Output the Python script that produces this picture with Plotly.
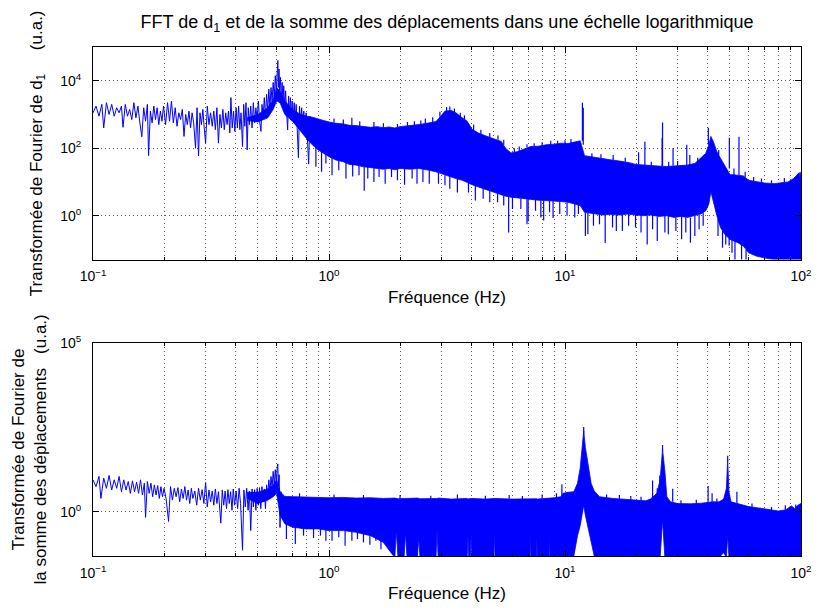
import plotly.graph_objects as go

# ---- values; amplitudes are stored as log10(u.a.) ----

# top panel (FFT of d1): low-frequency part, where single points can be seen
f_top_line = [
    0.100, 0.103, 0.106, 0.109, 0.111, 0.114, 0.117, 0.120, 0.123, 0.126,
    0.129, 0.132, 0.134, 0.137, 0.140, 0.143, 0.146, 0.149, 0.152, 0.155,
    0.158, 0.161, 0.164, 0.167, 0.170, 0.172, 0.175, 0.178, 0.181, 0.184,
    0.187, 0.190, 0.193, 0.196, 0.199, 0.203, 0.207, 0.211, 0.215, 0.219,
    0.223, 0.227, 0.231, 0.235, 0.239, 0.243, 0.247, 0.251, 0.255, 0.259,
    0.263, 0.267, 0.272, 0.276, 0.280, 0.284, 0.288, 0.292, 0.296, 0.300,
    0.305, 0.310, 0.315, 0.320, 0.325, 0.330, 0.335, 0.340, 0.345, 0.350,
    0.355, 0.360, 0.365, 0.370, 0.375, 0.380, 0.384, 0.389, 0.394, 0.399,
    0.404, 0.409, 0.414, 0.419, 0.424, 0.430, 0.435, 0.440, 0.445, 0.450,
    0.455, 0.460, 0.466, 0.472, 0.478, 0.484, 0.490, 0.496, 0.502, 0.508,
    0.515, 0.520, 0.526, 0.532, 0.538, 0.544, 0.550, 0.556, 0.562, 0.568,
    0.574, 0.580, 0.586, 0.592, 0.598, 0.604, 0.607, 0.610, 0.614, 0.618,
    0.623, 0.628, 0.633, 0.638, 0.643, 0.649, 0.655, 0.661, 0.668, 0.674,
    0.680, 0.686, 0.692, 0.698, 0.705, 0.712, 0.719, 0.726, 0.733, 0.742,
    0.750, 0.758, 0.766, 0.774, 0.782, 0.790, 0.800, 0.810, 0.820, 0.830,
    0.840, 0.850,
]
v_top_line = [
    3.05, 3.25, 2.95, 3.30, 2.60, 3.35, 3.00, 3.30, 2.95, 3.20,
    3.05, 3.25, 2.62, 3.30, 2.95, 3.15, 2.85, 3.35, 2.90, 3.25,
    2.75, 2.34, 3.20, 2.80, 3.30, 1.78, 3.10, 2.75, 3.25, 2.85,
    3.20, 2.70, 3.10, 2.80, 3.25, 2.70, 3.35, 2.80, 3.40, 2.75,
    3.20, 2.65, 3.05, 2.85, 3.15, 2.35, 3.00, 2.70, 3.10, 2.60,
    3.05, 2.75, 2.00, 3.20, 1.77, 3.05, 2.70, 3.15, 2.60, 2.15,
    3.25, 2.70, 3.05, 2.65, 3.10, 2.55, 3.20, 2.15, 3.00, 2.60,
    3.15, 2.55, 3.05, 2.70, 3.10, 2.45, 3.50, 2.60, 3.10, 2.50,
    3.20, 2.60, 3.25, 2.55, 3.05, 2.05, 3.30, 2.65, 3.35, 1.95,
    3.20, 2.70, 3.25, 2.60, 3.35, 2.75, 3.20, 2.85, 3.40, 2.80,
    2.50, 3.30, 2.95, 3.50, 2.90, 3.60, 3.10, 3.75, 3.20, 3.80,
    3.40, 3.95, 3.50, 4.15, 3.70, 4.45, 4.60, 3.80, 4.35, 3.70,
    4.10, 3.40, 3.95, 3.30, 3.85, 3.20, 3.70, 3.10, 2.54, 3.55,
    3.00, 3.50, 2.90, 3.40, 2.85, 3.35, 2.80, 3.30, 2.75, 1.72,
    3.25, 2.70, 3.20, 2.60, 3.10, 2.50, 3.05, 2.40, 1.53, 2.95,
    2.20, 2.90,
]

# top panel: dense part, upper and lower edge of the solid blue band
f_top_band = [
    0.45, 0.50, 0.55, 0.58, 0.60, 0.62, 0.65, 0.70, 0.75, 0.80,
    0.85, 0.90, 0.95, 1.00, 1.07, 1.15, 1.22, 1.30, 1.40, 1.50,
    1.60, 1.70, 1.80, 1.90, 2.00, 2.20, 2.40, 2.60, 2.84, 3.00,
    3.10, 3.30, 3.45, 3.67, 3.85, 4.04, 4.30, 4.60, 5.00, 5.37,
    5.60, 5.90, 6.30, 6.70, 7.15, 7.70, 8.30, 9.00, 9.60, 10.3,
    11.0, 11.6, 12.1, 12.8, 13.6, 14.5, 15.5, 17.0, 18.5, 20.0,
    21.5, 23.0, 25.0, 27.0, 29.0, 31.0, 33.0, 35.5, 37.6, 39.5,
    40.7, 41.5, 42.5, 44.0, 45.6, 47.5, 50.0, 54.0, 57.0, 60.0,
    65.0, 70.0, 77.0, 83.0, 88.0, 93.0, 96.0, 98.3, 99.2, 100.0,
]
hi_top_band = [
    2.90, 3.00, 3.20, 3.45, 3.80, 3.70, 3.40, 3.15, 3.02, 2.95,
    2.92, 2.86, 2.82, 2.78, 2.74, 2.72, 2.68, 2.67, 2.64, 2.62,
    2.64, 2.61, 2.63, 2.60, 2.64, 2.66, 2.70, 2.74, 2.79, 2.98,
    3.10, 3.12, 3.05, 2.90, 2.80, 2.56, 2.45, 2.37, 2.28, 2.20,
    2.00, 1.86, 1.90, 1.98, 2.05, 2.06, 2.10, 2.12, 2.15, 2.14,
    2.18, 2.22, 1.78, 1.75, 1.72, 1.68, 1.66, 1.62, 1.58, 1.52,
    1.50, 1.48, 1.47, 1.46, 1.48, 1.49, 1.50, 1.55, 1.70, 1.85,
    2.10, 2.35, 2.20, 1.90, 1.70, 1.50, 1.22, 1.20, 1.18, 1.05,
    1.00, 0.97, 0.95, 0.98, 1.00, 1.10, 1.22, 1.28, 1.10, 1.30,
]
lo_top_band = [
    2.82, 2.78, 2.90, 3.15, 3.40, 3.35, 3.00, 2.80, 2.55, 2.30,
    2.10, 1.95, 1.85, 1.75, 1.65, 1.60, 1.52, 1.50, 1.45, 1.42,
    1.40, 1.38, 1.40, 1.36, 1.40, 1.38, 1.40, 1.36, 1.30, 1.25,
    1.20, 1.15, 1.10, 1.05, 0.98, 0.92, 0.85, 0.78, 0.70, 0.62,
    0.58, 0.55, 0.52, 0.50, 0.48, 0.46, 0.45, 0.44, 0.42, 0.40,
    0.35, 0.30, 0.10, 0.08, 0.05, 0.02, 0.04, 0.02, 0.05, 0.02,
    0.00, 0.02, -0.02, 0.00, -0.05, -0.02, -0.05, 0.00, 0.05, 0.15,
    0.35, 0.72, 0.40, 0.00, -0.35, -0.55, -0.70, -0.80, -0.90, -1.10,
    -1.20, -1.25, -1.30, -1.30, -1.30, -1.30, -1.30, -1.30, -1.30, -1.30,
]

# top panel: single thin peaks rising above the band
f_top_up = [
    1.15, 1.25, 1.55, 1.95, 2.30, 2.56, 4.40, 5.20, 6.40, 7.40,
    9.30, 10.6, 11.85, 11.95, 13.0, 14.2, 16.0, 18.0, 20.5, 21.8,
    23.2, 25.8, 25.9, 27.5, 28.7, 30.0, 32.8, 33.8, 36.5, 40.5,
    44.8, 49.7, 52.0, 54.6, 58.0, 63.0, 68.0, 75.0, 85.0, 1.05,
    1.35, 1.70, 2.15, 2.45, 2.75, 2.95, 3.15, 3.25, 3.40, 3.60,
    3.75, 4.10, 4.80, 5.50, 6.10, 6.90, 8.00, 8.70, 10.0,
]
a_top_up_from = [
    2.72, 2.68, 2.62, 2.62, 2.67, 2.73, 2.42, 2.25, 1.92, 2.05,
    2.13, 2.15, 2.22, 2.10, 1.74, 1.70, 1.64, 1.60, 1.52, 1.50,
    1.48, 1.47, 1.47, 1.46, 1.48, 1.48, 1.50, 1.50, 1.60, 2.10,
    1.80, 1.40, 1.21, 1.20, 1.15, 1.02, 0.98, 0.96, 0.99, 2.76,
    2.66, 2.61, 2.65, 2.70, 2.77, 2.93, 3.10, 3.11, 3.07, 2.93,
    2.85, 2.53, 2.33, 2.10, 1.88, 2.02, 2.08, 2.11, 2.14,
]
a_top_up_to = [
    2.85, 2.90, 2.78, 2.72, 2.80, 2.88, 2.55, 2.38, 2.05, 2.15,
    2.22, 2.27, 3.35, 3.20, 1.85, 1.82, 1.80, 1.72, 1.88, 2.19,
    1.60, 2.30, 2.76, 1.60, 2.00, 1.62, 2.10, 1.80, 1.72, 2.61,
    1.95, 2.31, 1.40, 2.34, 1.30, 1.15, 1.10, 1.05, 1.12, 2.88,
    2.80, 2.74, 2.78, 2.82, 2.92, 3.08, 3.22, 3.24, 3.18, 3.05,
    2.98, 2.70, 2.45, 2.25, 2.00, 2.12, 2.18, 2.22, 2.24,
]

# top panel: single thin dips falling below the band
f_top_dn = [
    0.88, 0.93, 0.97, 1.03, 1.10, 1.18, 1.26, 1.34, 1.41, 1.46,
    1.55, 1.63, 1.73, 1.84, 1.95, 2.09, 2.25, 2.36, 2.50, 2.66,
    2.91, 3.10, 3.25, 3.50, 3.90, 4.17, 4.50, 4.80, 5.18, 5.50,
    5.77, 5.99, 6.50, 6.90, 6.98, 7.50, 7.90, 8.12, 8.60, 8.90,
    9.50, 10.2, 11.0, 11.4, 12.2, 12.5, 13.2, 14.0, 14.8, 15.9,
    16.5, 17.5, 18.6, 19.9, 21.0, 22.3, 23.5, 24.6, 26.5, 27.4,
    29.5, 31.2, 32.5, 34.0, 35.5, 37.0, 38.5, 44.5, 46.5, 48.0,
    49.6, 51.0, 52.5, 56.0, 58.5,
]
a_top_dn_from = [
    2.10, 1.95, 1.90, 1.75, 1.65, 1.60, 1.55, 1.50, 1.45, 1.45,
    1.42, 1.40, 1.38, 1.40, 1.38, 1.40, 1.38, 1.40, 1.38, 1.35,
    1.28, 1.20, 1.18, 1.10, 0.98, 0.90, 0.80, 0.75, 0.66, 0.60,
    0.58, 0.55, 0.50, 0.50, 0.48, 0.47, 0.46, 0.45, 0.45, 0.44,
    0.42, 0.40, 0.35, 0.32, 0.10, 0.08, 0.06, 0.04, 0.02, 0.04,
    0.03, 0.02, 0.05, 0.02, 0.01, 0.00, 0.02, -0.02, 0.00, 0.00,
    -0.05, -0.02, -0.05, -0.05, 0.00, 0.02, 0.10, -0.10, -0.45, -0.55,
    -0.65, -0.70, -0.75, -0.85, -1.00,
]
a_top_dn_to = [
    1.45, 1.30, 1.55, 1.20, 1.35, 1.10, 1.16, 1.20, 0.74, 1.10,
    1.00, 1.15, 0.95, 1.15, 1.05, 0.92, 1.10, 0.95, 1.00, 0.95,
    0.95, 0.90, 0.80, 0.69, 0.69, 0.45, 0.50, 0.40, 0.40, 0.30,
    -0.50, 0.20, 0.20, -0.25, -0.17, 0.15, -0.05, -0.14, 0.10, -0.07,
    0.05, 0.00, -0.05, 0.05, -0.60, -0.55, -0.30, -0.25, -0.81, -0.35,
    -0.45, -0.45, -0.30, -0.35, -0.50, -0.85, -0.40, -0.75, -0.50, -0.55,
    -0.45, -0.70, -0.50, -0.80, -0.60, -0.40, -0.30, -0.60, -0.95, -0.85,
    -0.89, -1.10, -1.40, -1.40, -1.40,
]

# bottom panel (FFT of the sum of displacements): low-frequency part
f_bot_line = [
    0.100, 0.103, 0.106, 0.108, 0.111, 0.114, 0.117, 0.120, 0.123, 0.126,
    0.129, 0.132, 0.135, 0.138, 0.141, 0.144, 0.147, 0.150, 0.153, 0.156,
    0.159, 0.162, 0.165, 0.167, 0.170, 0.173, 0.176, 0.179, 0.182, 0.185,
    0.188, 0.191, 0.194, 0.197, 0.200, 0.204, 0.209, 0.213, 0.217, 0.221,
    0.225, 0.229, 0.233, 0.237, 0.241, 0.245, 0.249, 0.253, 0.257, 0.261,
    0.265, 0.270, 0.275, 0.280, 0.285, 0.290, 0.295, 0.300, 0.305, 0.310,
    0.315, 0.320, 0.325, 0.330, 0.335, 0.340, 0.348, 0.353, 0.358, 0.363,
    0.368, 0.373, 0.378, 0.383, 0.388, 0.393, 0.398, 0.404, 0.410, 0.416,
    0.422, 0.430, 0.436, 0.442, 0.448, 0.454, 0.460, 0.466, 0.472, 0.478,
    0.484, 0.490, 0.496, 0.502, 0.508, 0.514, 0.520, 0.526, 0.532, 0.538,
    0.544, 0.550, 0.556, 0.562, 0.568, 0.574, 0.580, 0.586, 0.592, 0.598,
    0.604, 0.607, 0.610, 0.615, 0.620, 0.626, 0.632, 0.638, 0.644, 0.650,
    0.657, 0.664,
]
v_bot_line = [
    0.95, 0.75, 1.05, 0.40, 1.00, 0.70, 1.08, 0.65, 0.95, 0.70,
    1.05, 0.60, 0.95, 0.65, 0.90, 0.55, 0.92, 0.60, 0.88, 0.55,
    0.95, 0.50, 0.85, -0.16, 0.90, 0.55, 0.85, 0.45, 0.80, 0.50,
    0.78, 0.40, 0.75, 0.45, 0.70, 0.40, -0.28, 0.75, 0.35, 0.70,
    0.45, 0.72, 0.30, 0.68, 0.40, 0.75, 0.35, 0.65, 0.25, 0.70,
    0.40, 0.62, 0.20, 0.70, 0.35, 0.66, 0.25, 0.87, 0.15, 0.65,
    0.30, 0.62, 0.20, 0.68, 0.25, 0.60, -0.33, 0.65, 0.20, 0.62,
    0.10, 0.66, 0.25, 0.60, 0.05, 0.68, 0.20, 0.62, 0.10, 0.70,
    0.25, -1.13, 0.65, 0.15, 0.70, 0.05, 0.62, -0.55, 0.68, 0.15,
    0.66, 0.05, 0.70, 0.20, 0.72, 0.10, 0.75, 0.30, 0.68, 0.10,
    0.80, 0.45, 0.95, 0.60, 1.05, 0.70, 1.20, 0.80, 1.25, 0.85,
    1.35, 1.42, 0.75, 1.10, -0.46, 0.60, 0.15, 0.50, -0.20, 0.45,
    -0.05, 0.42,
]

# bottom panel: dense part, upper and lower edge of the blue band
f_bot_band = [
    0.45, 0.50, 0.55, 0.58, 0.60, 0.62, 0.65, 0.70, 0.80, 0.90,
    1.00, 1.15, 1.30, 1.50, 1.70, 1.90, 1.93, 1.96, 2.08, 2.11,
    2.14, 2.37, 2.40, 2.43, 2.84, 2.87, 2.90, 3.30, 3.85, 3.88,
    3.91, 3.97, 4.00, 4.03, 4.60, 4.99, 5.02, 5.05, 6.00, 7.11,
    7.14, 7.17, 7.57, 7.60, 7.63, 8.57, 8.60, 8.63, 9.00, 9.60,
    9.80, 10.3, 10.9, 11.3, 11.6, 12.0, 12.2, 12.5, 12.9, 13.3,
    14.0, 16.0, 18.0, 20.0, 22.0, 23.0, 24.5, 25.3, 25.9, 26.5,
    27.0, 28.0, 30.0, 34.0, 38.0, 42.0, 45.0, 47.0, 48.3, 48.9,
    49.5, 50.5, 55.0, 60.0, 66.0, 72.0, 80.0, 86.0, 91.0, 94.0,
    97.0, 100.0,
]
hi_bot_band = [
    0.58, 0.58, 0.68, 0.80, 0.95, 0.60, 0.46, 0.45, 0.44, 0.43,
    0.42, 0.43, 0.41, 0.42, 0.40, 0.41, 0.40, 0.39, 0.40, 0.41,
    0.40, 0.41, 0.40, 0.39, 0.40, 0.39, 0.41, 0.38, 0.40, 0.38,
    0.39, 0.40, 0.39, 0.40, 0.38, 0.40, 0.39, 0.40, 0.38, 0.40,
    0.39, 0.38, 0.40, 0.39, 0.38, 0.40, 0.41, 0.42, 0.42, 0.45,
    0.55, 0.58, 0.60, 0.85, 1.30, 2.40, 1.90, 1.45, 0.85, 0.62,
    0.45, 0.40, 0.38, 0.35, 0.33, 0.38, 0.55, 0.95, 1.85, 1.20,
    0.45, 0.30, 0.25, 0.24, 0.26, 0.30, 0.30, 0.38, 0.70, 1.55,
    0.60, 0.30, 0.22, 0.16, 0.12, 0.08, 0.03, 0.06, 0.18, 0.10,
    0.20, 0.25,
]
lo_bot_band = [
    0.40, 0.25, 0.35, 0.45, 0.55, -0.10, -0.35, -0.45, -0.50, -0.50,
    -0.55, -0.55, -0.60, -0.70, -0.90, -1.35, -0.55, -1.35, -1.35, -0.60,
    -1.35, -1.35, -0.75, -1.35, -1.35, -0.55, -1.35, -1.35, -1.35, -0.70,
    -1.35, -1.35, -0.65, -1.35, -1.35, -1.35, -0.60, -1.35, -1.35, -1.35,
    -0.55, -1.35, -1.35, -0.70, -1.35, -1.35, -0.60, -1.35, -1.35, -1.35,
    -1.35, -1.35, -1.30, -0.70, -0.40, 0.20, -0.10, -0.45, -0.90, -1.30,
    -1.35, -1.35, -1.35, -1.35, -1.35, -1.35, -1.35, -1.35, -0.23, -1.35,
    -1.35, -1.35, -1.35, -1.35, -1.35, -1.35, -1.35, -1.20, -1.35, -0.67,
    -1.35, -1.35, -1.35, -1.35, -1.35, -1.35, -1.35, -1.35, -1.35, -1.35,
    -1.35, -1.35,
]

# bottom panel: thin peaks above the band
f_bot_up = [
    0.75, 1.05, 1.40, 2.00, 2.70, 3.50, 4.60, 5.80, 6.60, 8.00,
    9.20, 9.70, 12.0, 15.0, 17.0, 19.0, 21.0, 23.5, 24.6, 25.2,
    25.9, 28.6, 31.0, 36.0, 40.4, 42.0, 44.0, 48.9, 53.5, 62.0,
    75.0, 85.8, 95.0,
]
a_bot_up_from = [
    0.44, 0.42, 0.41, 0.40, 0.39, 0.39, 0.38, 0.39, 0.38, 0.40,
    0.42, 0.45, 2.30, 0.42, 0.39, 0.36, 0.34, 0.38, 0.50, 0.70,
    1.80, 0.30, 0.25, 0.24, 0.28, 0.30, 0.30, 1.50, 0.25, 0.15,
    0.06, 0.05, 0.10,
]
a_bot_up_to = [
    0.55, 0.52, 0.50, 0.50, 0.48, 0.52, 0.48, 0.50, 0.47, 0.52,
    0.55, 0.82, 2.51, 0.52, 0.50, 0.47, 0.45, 0.93, 0.70, 1.08,
    1.98, 0.69, 0.35, 0.36, 0.77, 0.55, 0.40, 1.66, 0.60, 0.25,
    0.15, 0.20, 0.22,
]

# bottom panel: thin dips below the band
f_bot_dn = [
    0.66, 0.72, 0.78, 0.86, 0.92, 0.97, 1.03, 1.10, 1.17, 1.25,
    1.32, 1.40, 1.49, 1.58, 1.66,
]
a_bot_dn_from = [
    -0.35, -0.45, -0.45, -0.50, -0.50, -0.50, -0.55, -0.55, -0.55, -0.55,
    -0.60, -0.60, -0.62, -0.65, -0.70,
]
a_bot_dn_to = [
    -0.80, -0.95, -0.70, -0.77, -0.70, -0.85, -0.85, -0.75, -1.00, -0.85,
    -0.80, -0.90, -0.97, -0.85, -1.10,
]

# ticks
x_tickvals = [0.1, 1, 10, 100]
x_ticktext = ['10<sup>\u22121</sup>', '10<sup>0</sup>', '10<sup>1</sup>', '10<sup>2</sup>']
x_minor = [0.2, 0.3, 0.4, 0.5, 0.6, 0.7, 0.8, 0.9,
           2, 3, 4, 5, 6, 7, 8, 9,
           20, 30, 40, 50, 60, 70, 80, 90]
y_top_tickvals = [1, 100, 1e4]
y_top_ticktext = ['10<sup>0</sup>', '10<sup>2</sup>', '10<sup>4</sup>']
y_bot_tickvals = [1, 1e5]
y_bot_ticktext = ['10<sup>0</sup>', '10<sup>5</sup>']

for group in [(f_top_line, v_top_line), (f_bot_line, v_bot_line),
              (f_top_band, hi_top_band, lo_top_band),
              (f_bot_band, hi_bot_band, lo_bot_band),
              (f_top_up, a_top_up_from, a_top_up_to),
              (f_top_dn, a_top_dn_from, a_top_dn_to),
              (f_bot_up, a_bot_up_from, a_bot_up_to),
              (f_bot_dn, a_bot_dn_from, a_bot_dn_to)]:
    assert len(set(len(g) for g in group)) == 1, [len(g) for g in group]

BLUE = '#0000ff'
FONT = 'Liberation Sans, Arial, Helvetica, sans-serif'
GRID = '#555555'
DOTS = '1px,3px'


def amp(logs):
    return [10 ** v for v in logs]


def strokes(f, a_from, a_to):
    # vertical strokes, one per frequency, separated by gaps
    xs, ys = [], []
    for fi, a, b in zip(f, a_from, a_to):
        xs += [fi, fi, None]
        ys += [10 ** a, 10 ** b, None]
    return xs, ys


fig = go.Figure()
panels = [
    ('x', 'y', f_top_line, v_top_line, f_top_band, hi_top_band, lo_top_band,
     [(f_top_up, a_top_up_from, a_top_up_to), (f_top_dn, a_top_dn_from, a_top_dn_to)]),
    ('x2', 'y2', f_bot_line, v_bot_line, f_bot_band, hi_bot_band, lo_bot_band,
     [(f_bot_up, a_bot_up_from, a_bot_up_to), (f_bot_dn, a_bot_dn_from, a_bot_dn_to)]),
]
for xa, ya, fl, vl, fb, hb, lb, strk in panels:
    fig.add_trace(go.Scatter(
        x=fb + fb[::-1], y=amp(hb) + amp(lb[::-1]),
        mode='lines', fill='toself', fillcolor=BLUE,
        line=dict(color=BLUE, width=0.8),
        xaxis=xa, yaxis=ya, hoverinfo='skip',
    ))
    for f, a0, a1 in strk:
        sx, sy = strokes(f, a0, a1)
        fig.add_trace(go.Scatter(
            x=sx, y=sy, mode='lines', line=dict(color=BLUE, width=1.2),
            xaxis=xa, yaxis=ya, hoverinfo='skip',
        ))
    fig.add_trace(go.Scatter(
        x=fl, y=amp(vl), mode='lines',
        line=dict(color=BLUE, width=1),
        xaxis=xa, yaxis=ya,
    ))

x_common = dict(
    type='log', range=[-1, 2],
    tickmode='array', tickvals=x_tickvals, ticktext=x_ticktext,
    ticks='inside', ticklen=6, tickcolor='black',
    showline=True, linecolor='black', linewidth=1, mirror='ticks',
    showgrid=True, gridcolor=GRID, griddash=DOTS, gridwidth=1,
    minor=dict(tickmode='array', tickvals=x_minor, ticks='inside', ticklen=3,
               tickcolor='black', showgrid=True, gridcolor=GRID,
               griddash=DOTS, gridwidth=1),
    tickfont=dict(size=14, color='black'),
    ticklabelstandoff=4,
    zeroline=False,
    title=dict(text='Fréquence (Hz)', font=dict(size=17, color='black'), standoff=7),
)
y_common = dict(
    type='log', range=[-1.301, 5],
    tickmode='array',
    ticks='inside', ticklen=6, tickcolor='black',
    showline=True, linecolor='black', linewidth=1, mirror='ticks',
    showgrid=True, gridcolor=GRID, griddash=DOTS, gridwidth=1,
    tickfont=dict(size=14, color='black'),
    ticklabelstandoff=8,
    zeroline=False,
)

fig.update_layout(
    width=824, height=612,
    margin=dict(l=93, r=14, t=47, b=51),
    paper_bgcolor='white', plot_bgcolor='white',
    font=dict(family=FONT, color='black'),
    showlegend=False,
    title=dict(
        text='FFT de d<sub>1</sub> et de la somme des déplacements dans une échelle logarithmique',
        x=0.5, xref='paper', xanchor='center',
        y=1 - 22 / 612, yanchor='middle',
        font=dict(size=18, color='black'),
    ),
    xaxis=dict(x_common, domain=[0, 1], anchor='y'),
    xaxis2=dict(x_common, domain=[0, 1], anchor='y2'),
    yaxis=dict(
        y_common, domain=[0.5823, 1], anchor='x',
        tickvals=y_top_tickvals, ticktext=y_top_ticktext,
        title=dict(
            text='Transformée de Fourier de d<sub>1</sub>\u00a0\u00a0\u00a0\u00a0\u00a0(u.a.)',
            font=dict(size=17, color='black'), standoff=13,
        ),
    ),
    yaxis2=dict(
        y_common, domain=[0, 0.4189], anchor='x2',
        tickvals=y_bot_tickvals, ticktext=y_bot_ticktext,
        title=dict(
            text='Transformée de Fourier de<br>la somme des déplacements\u00a0\u00a0\u00a0(u.a.)',
            font=dict(size=17, color='black'), standoff=9,
        ),
    ),
)

# the page body keeps its default 8px margin otherwise, which shifts the figure
fig.write_html(
    'out.html',
    config={'displayModeBar': False},
    post_script="document.body.style.margin = '0';",
)
